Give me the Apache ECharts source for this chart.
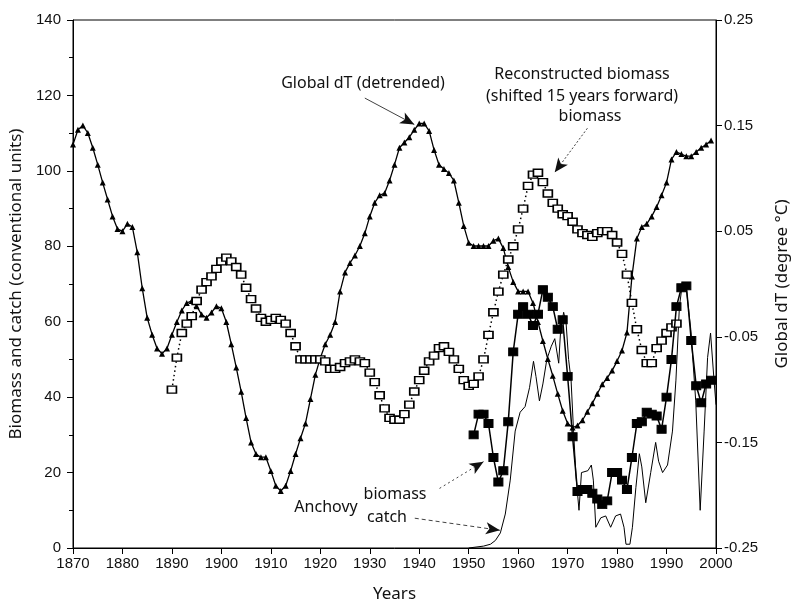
<!DOCTYPE html>
<html>
<head>
<meta charset="utf-8">
<script src="https://cdn.jsdelivr.net/npm/echarts@6/dist/echarts.min.js"></script>
<style>
html,body{margin:0;padding:0;background:#fff;}
#chart{width:797px;height:607px;}
</style>
</head>
<body>
<div id="chart"></div>
<script>
// ---- Data ----
// Global dT (detrended), annual from 1870, right axis (degree C)
const dtStartYear = 1870;
const dtValues = [
 0.132,0.146,0.150,0.143,0.129,0.113,0.096,0.080,0.064,0.052,
 0.050,0.057,0.054,0.030,-0.004,-0.032,-0.048,-0.061,-0.066,-0.061,
 -0.048,-0.036,-0.025,-0.018,-0.016,-0.021,-0.029,-0.032,-0.027,-0.021,
 -0.023,-0.036,-0.057,-0.079,-0.102,-0.127,-0.150,-0.161,-0.164,-0.164,
 -0.177,-0.191,-0.196,-0.191,-0.177,-0.161,-0.146,-0.132,-0.109,-0.086,
 -0.070,-0.057,-0.048,-0.036,-0.007,0.011,0.020,0.027,0.036,0.048,
 0.064,0.077,0.084,0.086,0.098,0.113,0.129,0.134,0.139,0.146,
 0.152,0.152,0.145,0.127,0.113,0.109,0.105,0.098,0.077,0.055,
 0.039,0.036,0.036,0.036,0.036,0.041,0.043,0.034,0.016,0.002,
 -0.007,-0.007,-0.007,-0.018,-0.036,-0.054,-0.071,-0.087,-0.104,-0.120,
 -0.132,-0.136,-0.134,-0.129,-0.121,-0.113,-0.104,-0.095,-0.089,-0.082,
 -0.073,-0.063,-0.046,0.007,0.043,0.054,0.057,0.064,0.073,0.084,
 0.096,0.118,0.125,0.123,0.121,0.121,0.125,0.129,0.132,0.136
];

// Reconstructed biomass (shifted 15 years forward), annual from 1890, left axis
const reconStartYear = 1890;
const reconValues = [
 42,50.5,57,59.5,61.5,65.5,68.5,70.5,72,74,
 76,77,76,74.5,72.5,69,66,63.5,61,60,
 60.5,61,60.5,59.5,57,53.5,50,50,50,50,
 50,49.5,47.5,47.5,48,49,49.5,50,49.5,49,
 46.5,44,40.5,37,34.5,34,34,35.5,38,41.5,
 44.5,47,49.5,51,53,53.5,52,50,47.5,44.5,
 43,43.5,45.5,50,56.5,62.5,68,72.5,76.5,80,
 84.5,90,96,99,99.5,97,94,91.5,90,88.5,
 88,86.5,84.5,83.5,83,82.5,83.5,84,84,83,
 81,78,72.5,65,58,52.5,49,49,53,55,
 57,58.5,59.5
];

// Anchovy biomass, annual from 1951, left axis
const anchovyStartYear = 1951;
const anchovyBiomass = [
 30,35.5,35.5,33,24,17.5,20.5,33.5,52,62,
 64,62,59,62,68.5,66.5,64,58,60.5,45.5,
 29.5,15,15.5,15.5,14.5,13,11.5,12.5,20,20,
 18,15.5,24,33,33.5,36,35.5,35,31.5,40,
 50,64,69,69.5,55,43,38.5,43.5,44.5
];

// Anchovy catch, left axis
const catchYears = [1950,1953,1954.4,1955.4,1956.4,1957.4,1958.4,1959.4,1960.4,1961.4,
 1962.3,1963.1,1963.6,1964.3,1965,1965.8,1966.7,1967.4,1968.2,1968.6,
 1969.2,1969.7,1970.2,1970.7,1971.2,1971.7,1972.3,1972.8,1974.1,1974.8,
 1975.2,1975.7,1976.7,1977.7,1978.7,1979.7,1980.7,1981.4,1981.8,1982.6,
 1983.1,1983.8,1984.5,1985,1985.8,1986.8,1987.8,1988.4,1989.2,1990.2,
 1991.2,1991.9,1992.6,1993.1,1993.9,1994.9,1995.9,1996.8,1997.6,1998.3,
 1998.9,1999.6,2000];
const catchValues = [0,0.5,1,2,4,9,18,31,36,37.5,
 42.5,49.5,45.5,39,43.5,50,53.5,55.5,49,58,
 62.5,59.5,50,44.5,31,19,10,20,20.5,22,
 18,5.5,8,8.5,5.5,8.5,9,5.5,1,1,
 5.5,16,25,21.5,12,20,28,23,20,22,
 31,44.5,64,69,70,58,39,10,31,50.5,
 57,44.5,38];

// Axis tick labels
const leftTicks = [0,20,40,60,80,100,120,140];
const rightTicks = [-0.25,-0.15,-0.05,0.05,0.15,0.25];

// ---- Build ----
const dtData = dtValues.map((v,i)=>[dtStartYear+i, v]);
const reconData = reconValues.map((v,i)=>[reconStartYear+i, v]);
const anchovyData = anchovyBiomass.map((v,i)=>[anchovyStartYear+i, v]);
const catchData = catchValues.map((v,i)=>[catchYears[i], v]);

const TXT = '"Noto Sans", "Open Sans", sans-serif';
const NUM = '"Liberation Sans", Arial, sans-serif';

const chart = echarts.init(document.getElementById('chart'), null, {renderer:'canvas'});
chart.setOption({
  animation:false,
  backgroundColor:'#fff',
  grid:{left:73,right:81,top:20,bottom:59,show:true,borderColor:'#000',borderWidth:1,
        backgroundColor:'transparent',containLabel:false,outerBoundsMode:'none'},
  xAxis:{
    type:'value',min:1870,max:2000,interval:10,
    name:'Years',nameLocation:'middle',nameGap:38,
    nameTextStyle:{fontFamily:TXT,fontSize:17,color:'#111'},
    axisLine:{lineStyle:{color:'#000',width:1}},
    axisTick:{show:true,inside:false,length:6,lineStyle:{color:'#000'}},
    axisLabel:{fontFamily:NUM,fontSize:15,color:'#111',margin:8,formatter:v=>String(v)},
    splitLine:{show:false}
  },
  yAxis:[{
    type:'value',min:0,max:140,interval:20,position:'left',
    name:'Biomass and catch (conventional units)',nameLocation:'middle',nameGap:46,nameRotate:90,
    nameTextStyle:{fontFamily:TXT,fontSize:17,color:'#111'},
    axisLine:{show:true,lineStyle:{color:'#000',width:1}},
    axisTick:{show:true,length:6,lineStyle:{color:'#000'}},
    minorTick:{show:true,splitNumber:2,length:4,lineStyle:{color:'#000'}},
    axisLabel:{fontFamily:NUM,fontSize:15,color:'#111',margin:12,customValues:leftTicks},
    splitLine:{show:false}
  },{
    type:'value',min:-0.25,max:0.25,position:'right',
    name:'Global dT (degree °C)',nameLocation:'middle',nameGap:58,nameRotate:90,
    nameTextStyle:{fontFamily:TXT,fontSize:17,color:'#111'},
    axisLine:{show:true,lineStyle:{color:'#000',width:1}},
    axisTick:{show:true,length:6,lineStyle:{color:'#000'},customValues:rightTicks},
    axisLabel:{fontFamily:NUM,fontSize:15,color:'#111',margin:8,customValues:rightTicks,
      formatter:v=>v.toFixed(2)},
    splitLine:{show:false}
  }],
  series:[
    {
      name:'Anchovy catch',type:'line',yAxisIndex:0,data:catchData,
      showSymbol:false,symbol:'none',z:2,
      lineStyle:{color:'#000',width:1},
      markLine:{
        silent:true,symbol:['none','arrow'],symbolSize:[9,14],
        label:{show:false},
        lineStyle:{color:'#111',width:0.8,type:'solid'},
        data:[
          [{coord:[1929,119.3],lineStyle:{type:'solid',color:'#111',width:0.8}},{coord:[1939,112.3]}],
          [{coord:[1974,111.3],lineStyle:{type:[2,2],color:'#111',width:0.8}},{coord:[1967.4,99.6]}],
          [{coord:[1944.1,15.8],lineStyle:{type:[2,3],color:'#111',width:0.8}},{coord:[1953,22.9]}],
          [{coord:[1939.1,7.9],lineStyle:{type:[4,3],color:'#111',width:0.8}},{coord:[1956.3,4.7]}]
        ]
      }
    },
    {
      name:'Global dT (detrended)',type:'line',yAxisIndex:1,data:dtData,
      symbol:'triangle',symbolSize:6,showAllSymbol:true,z:3,
      itemStyle:{color:'#000'},
      lineStyle:{color:'#000',width:1.3}
    },
    {
      name:'Reconstructed biomass',type:'line',yAxisIndex:0,data:reconData,
      symbol:'rect',symbolSize:[9,7],showAllSymbol:true,z:4,
      itemStyle:{color:'#fff',borderColor:'#000',borderWidth:1.5},
      lineStyle:{color:'#000',width:1.5,type:[1.5,3]}
    },
    {
      name:'Anchovy biomass',type:'line',yAxisIndex:0,data:anchovyData,
      symbol:'rect',symbolSize:[9,8],showAllSymbol:true,z:5,
      itemStyle:{color:'#000',borderColor:'#000',borderWidth:1},
      lineStyle:{color:'#000',width:1.5}
    }
  ],
  graphic:[
    {type:'text',x:363,y:83,style:{text:'Global dT (detrended)',font:'16px '+TXT,fill:'#111',align:'center',verticalAlign:'middle'}},
    {type:'text',x:582,y:74,style:{text:'Reconstructed biomass',font:'16px '+TXT,fill:'#111',align:'center',verticalAlign:'middle'}},
    {type:'text',x:582,y:96,style:{text:'(shifted 15 years forward)',font:'16px '+TXT,fill:'#111',align:'center',verticalAlign:'middle'}},
    {type:'text',x:590,y:116,style:{text:'biomass',font:'16px '+TXT,fill:'#111',align:'center',verticalAlign:'middle'}},
    {type:'text',x:326,y:507,style:{text:'Anchovy',font:'16px '+TXT,fill:'#111',align:'center',verticalAlign:'middle'}},
    {type:'text',x:395,y:494,style:{text:'biomass',font:'16px '+TXT,fill:'#111',align:'center',verticalAlign:'middle'}},
    {type:'text',x:387,y:517,style:{text:'catch',font:'16px '+TXT,fill:'#111',align:'center',verticalAlign:'middle'}}
  ]
});
</script>
</body>
</html>
